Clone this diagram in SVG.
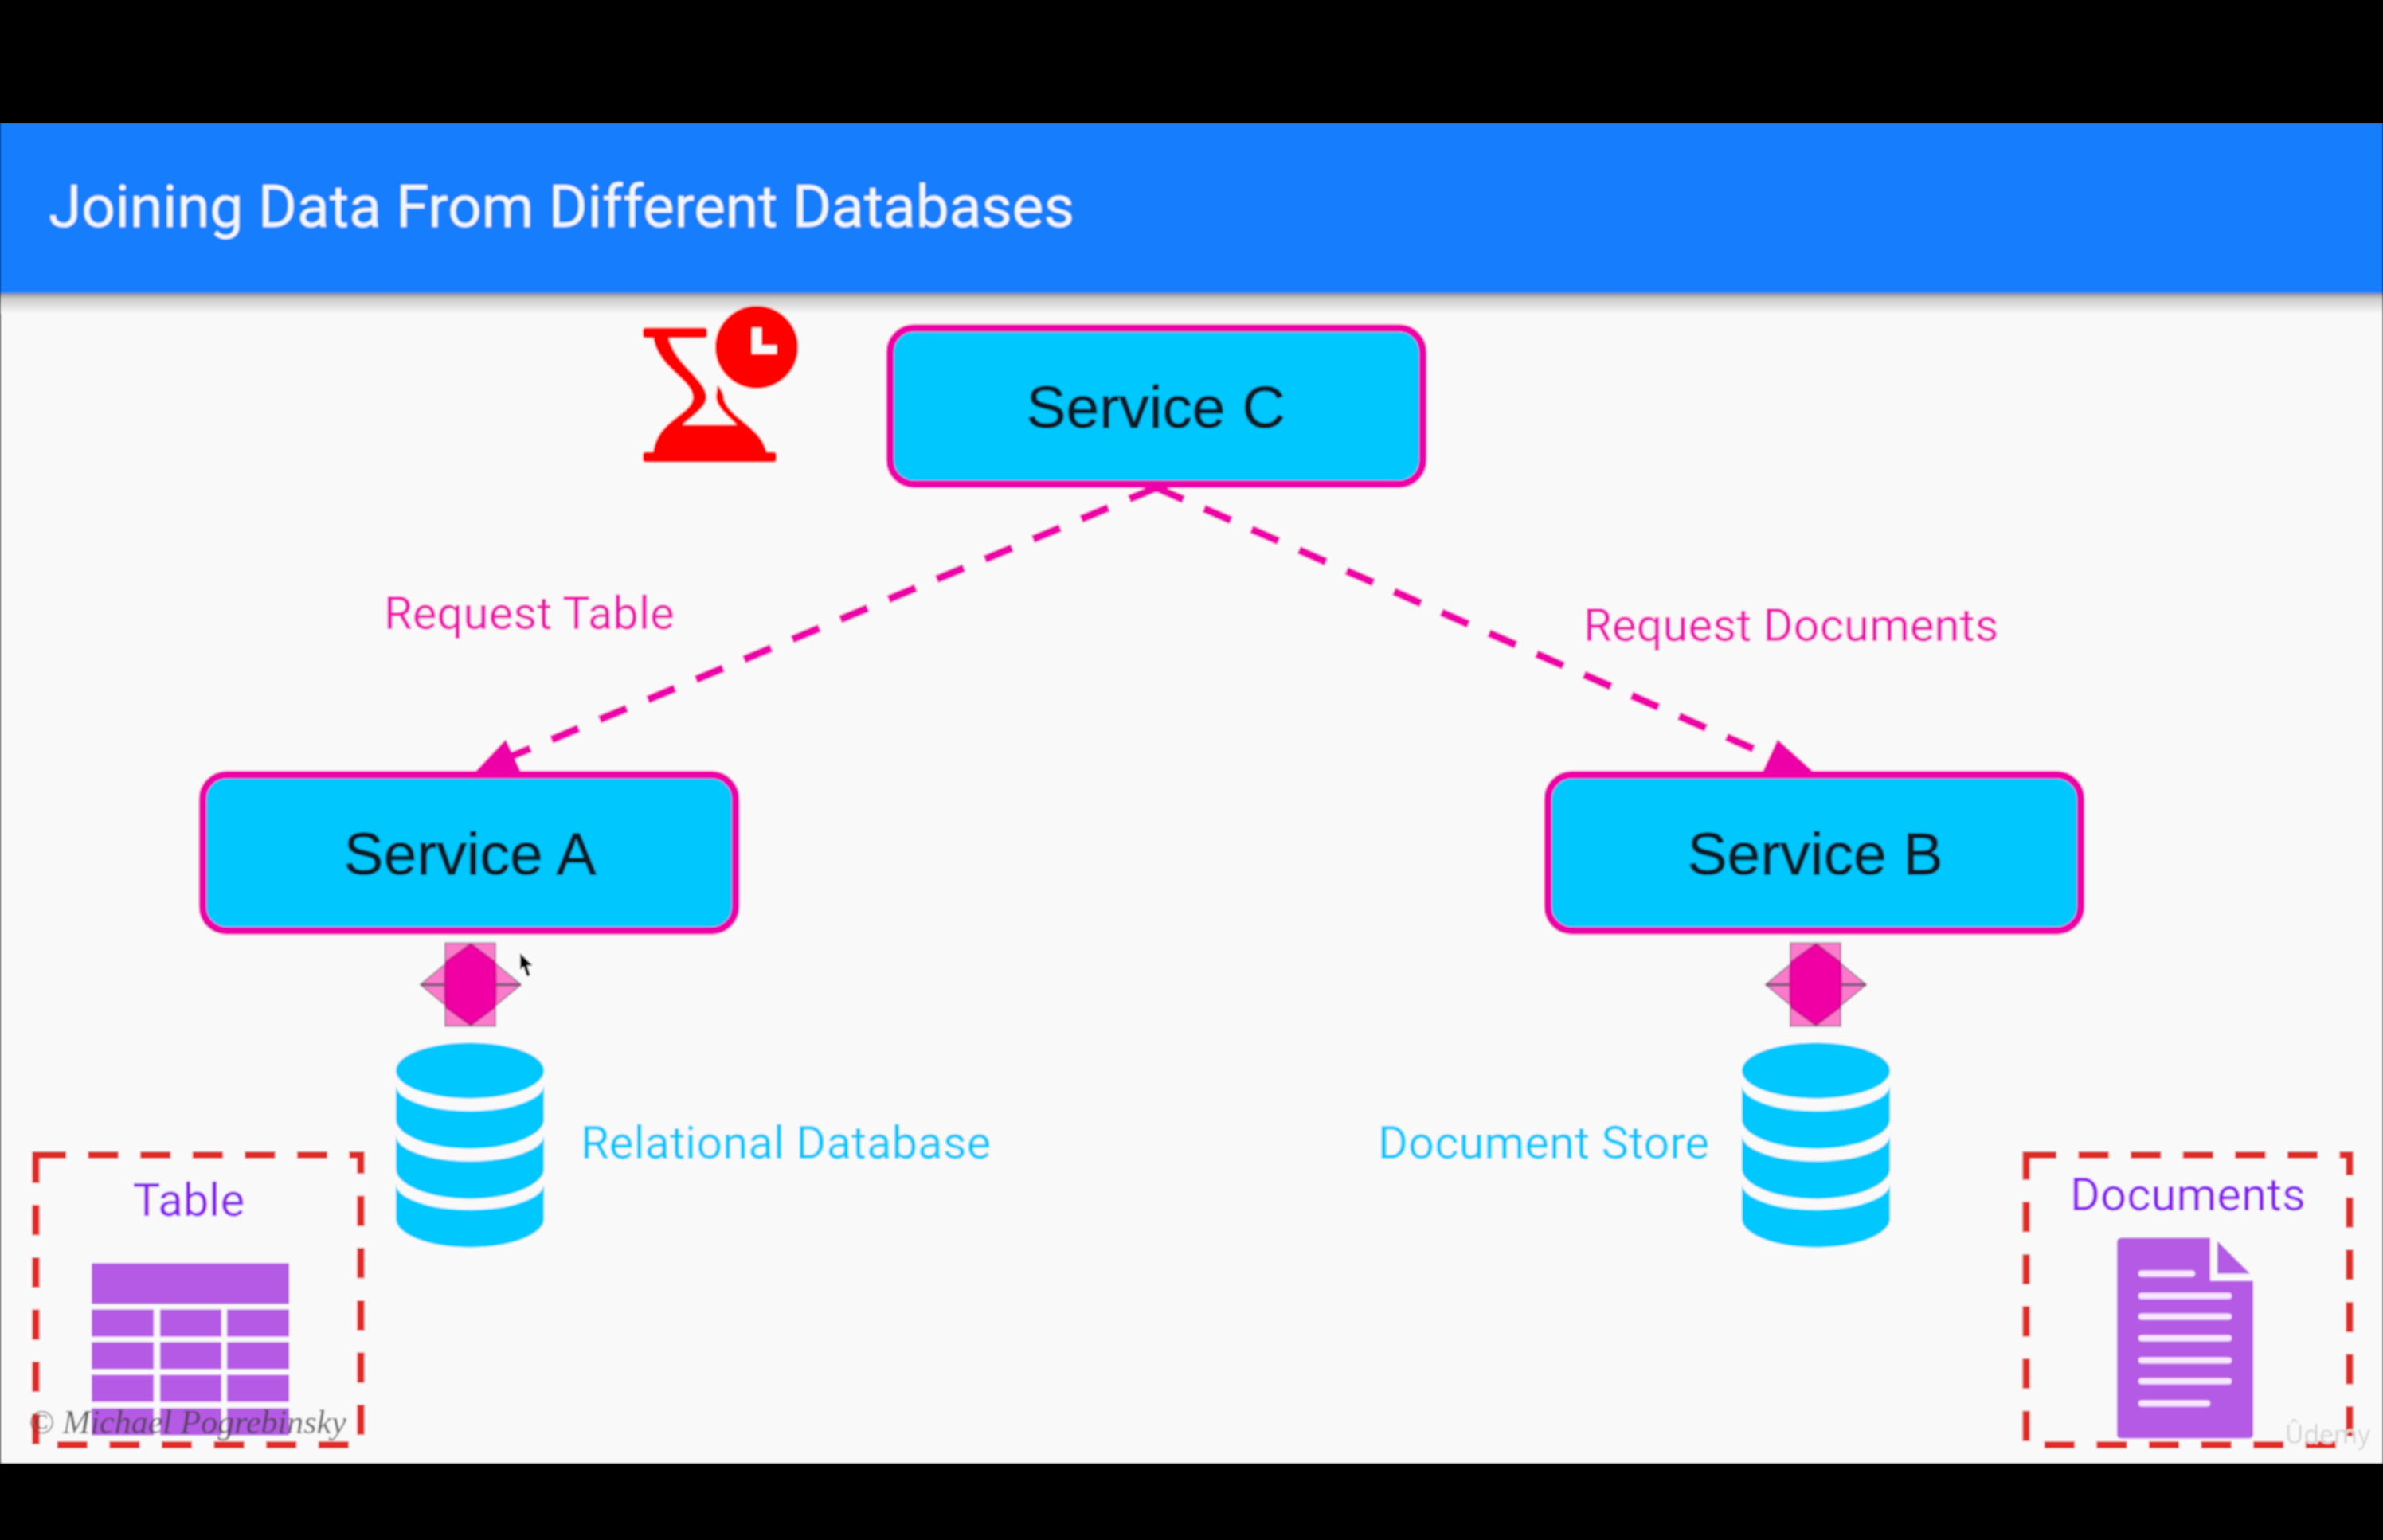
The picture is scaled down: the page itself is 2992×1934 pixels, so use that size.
<svg xmlns="http://www.w3.org/2000/svg" xmlns:xlink="http://www.w3.org/1999/xlink" width="2992" height="1934" viewBox="0 0 2992 1934">
<style>
.box{fill:#00c8ff;stroke:#ee00a8;stroke-width:9.500}
.svc{font-family:"Liberation Sans",Arial,sans-serif;font-size:75px;fill:#0b1a26;stroke:#0b1a26;stroke-width:1;text-anchor:middle}
.rb{font-family:Roboto,"Noto Sans",sans-serif}
.req{font-size:58px;fill:#ee14ad}
.db{font-size:58px;fill:#00c8ff}
.pur{font-size:58px;fill:#8a1ff0}
.conn{fill:none;stroke:#ee00a8;stroke-width:10}
.head{fill:#ee00a8}
.dash{fill:none;stroke:#e02b26;stroke-width:9;stroke-dasharray:38 27.6}
.vio{fill:#b55ae4}
.dbf{fill:#00c8ff}
.hx{fill:#fc7acb;stroke:#a87a9c;stroke-width:2}
.hxl{stroke:#8a5a80;stroke-width:4}
.hxc{fill:#f000a4;stroke:#c0108a;stroke-width:2;stroke-linejoin:round}
.rd{fill:#ff0000}
.ln{fill:#f8e6ff}
</style>
<defs>
<filter id="soft" x="0" y="0" width="100%" height="100%" filterUnits="objectBoundingBox"><feGaussianBlur stdDeviation="1.3"/></filter>
<linearGradient id="shade" x1="0" y1="0" x2="0" y2="1"><stop offset="0" stop-color="#8d8d8d"/><stop offset=".25" stop-color="#c9c9c9"/><stop offset="1" stop-color="#f9f9f9"/></linearGradient>
<g id="connector-icon">
<rect class="hx" x="559" y="1183" width="63" height="104"/>
<polygon class="hx" points="591,1183 654,1235 591,1287 528,1235"/>
<line class="hxl" x1="528" y1="1235" x2="654" y2="1235"/>
<path class="hxc" d="M591,1184 L622,1207 Q623,1235 622,1263 L591,1286 L559,1263 Q558,1235 559,1207 Z"/>
</g>
<g id="db-icon">
<ellipse class="dbf" cx="590" cy="1343" rx="93" ry="35"/>
<path class="dbf" d="M497,1361 A93,33 0 0 0 683,1361 V1404 A93,37 0 0 1 497,1404 Z"/>
<path class="dbf" d="M497,1424 A93,33 0 0 0 683,1424 V1466 A93,38 0 0 1 497,1466 Z"/>
<path class="dbf" d="M497,1485 A93,33 0 0 0 683,1485 V1529 A93,36 0 0 1 497,1529 Z"/>
</g>
</defs>
<rect id="backdrop" width="2992" height="1934" fill="#000"/>
<g id="slide" filter="url(#soft)">
<rect x="0" y="368" width="2992" height="1470" fill="#f9f9f9"/>
<rect x="0" y="368" width="2" height="1470" fill="#cfcfcf"/>
<rect x="0" y="368" width="2992" height="26" fill="url(#shade)"/>
<rect x="0" y="154" width="2992" height="214" fill="#167dfc"/>
<text id="title" class="rb" x="61" y="285" font-size="75" fill="#f2f6ff" textLength="1288" lengthAdjust="spacingAndGlyphs">Joining Data From Different Databases</text>

<g id="content" transform="translate(0,1.500)">
<g id="connectors">
<path class="conn" style="stroke-dasharray:37 28.5;stroke-dashoffset:12" d="M643,948 L1452,611"/>
<polygon class="head" points="635,927 662,985 585,980"/>
<path class="conn" style="stroke-dasharray:37 28.1" d="M1452,611 L2202,939"/>
<polygon class="head" points="2232,927 2205,985 2296,985"/>
</g>

<g id="clock-icon">
<rect class="rd" x="807" y="410" width="81" height="13" rx="4"/>
<rect class="rd" x="807" y="566" width="168" height="13" rx="4"/>
<path class="rd" d="M822,420 L839,420 C845,455 887,475 887,497 C887,510 870,520 857,532 L925,532 C913,520 900,510 899,497 L901,482 C906,488 909,494 909,500 C917,525 957,535 963,568 L820,568 C824,525 870,520 870,497 C870,475 824,460 820,420 Z"/>
<ellipse class="rd" cx="950" cy="434.500" rx="52" ry="52"/>
<path fill="#f9f9f9" d="M944,410 H956 V432 H975 V443 H944 Z"/>
</g>

<g id="service-c"><rect class="box" x="1117.500" y="410.500" width="669" height="196" rx="30"/><text class="svc" x="1451" y="535">Service C</text></g>
<g id="service-a"><rect class="box" x="254.500" y="971.500" width="669" height="196" rx="30"/><text class="svc" x="590" y="1096">Service A</text></g>
<g id="service-b"><rect class="box" x="1943.500" y="971.500" width="669" height="196" rx="30"/><text class="svc" x="2279" y="1096">Service B</text></g>

<text id="label-request-table" class="rb req" x="482" y="788">Request Table</text>
<text id="label-request-documents" class="rb req" x="1988" y="803">Request Documents</text>

<g id="connector-a"><use href="#connector-icon"/></g>
<g id="connector-b"><use href="#connector-icon" x="1689"/></g>
<g id="relational-database"><use href="#db-icon"/><text class="rb db" x="729" y="1453">Relational Database</text></g>
<g id="document-store"><use href="#db-icon" x="1690"/><text class="rb db" x="1730" y="1453">Document Store</text></g>

<g id="table-group">
<path class="dash" d="M45,1449 H453 V1813 H45 Z"/>
<text class="rb pur" x="237" y="1525" text-anchor="middle">Table</text>
<rect class="vio" x="115" y="1585" width="248" height="51"/>
<rect class="vio" x="115" y="1643" width="78" height="34"/><rect class="vio" x="201" y="1643" width="77" height="34"/><rect class="vio" x="285" y="1643" width="78" height="34"/>
<rect class="vio" x="115" y="1684" width="78" height="34"/><rect class="vio" x="201" y="1684" width="77" height="34"/><rect class="vio" x="285" y="1684" width="78" height="34"/>
<rect class="vio" x="115" y="1725" width="78" height="34"/><rect class="vio" x="201" y="1725" width="77" height="34"/><rect class="vio" x="285" y="1725" width="78" height="34"/>
<rect class="vio" x="115" y="1767" width="78" height="34"/><rect class="vio" x="201" y="1767" width="77" height="34"/><rect class="vio" x="285" y="1767" width="78" height="34"/>
</g>

<g id="documents-group">
<path class="dash" d="M2544,1449 H2950 V1813 H2544 Z"/>
<text class="rb pur" x="2599" y="1518">Documents</text>
<path class="vio" d="M2664,1553 H2775 V1607 H2829 V1800 Q2829,1805 2823,1805 H2664 Q2658,1805 2658,1800 V1559 Q2658,1553 2664,1553 Z"/>
<polygon class="vio" points="2784,1557 2825,1598 2784,1598"/>
<rect class="ln" x="2685" y="1594" width="71" height="8" rx="4"/>
<rect class="ln" x="2685" y="1622" width="117" height="8" rx="4"/>
<rect class="ln" x="2685" y="1648" width="117" height="8" rx="4"/>
<rect class="ln" x="2685" y="1675" width="117" height="8" rx="4"/>
<rect class="ln" x="2685" y="1703" width="117" height="8" rx="4"/>
<rect class="ln" x="2685" y="1729" width="117" height="8" rx="4"/>
<rect class="ln" x="2685" y="1757" width="90" height="8" rx="4"/>
</g>

<text id="copyright" x="36" y="1798" font-family="'Liberation Serif','Times New Roman',serif" font-style="italic" font-size="42" fill="#3c3c3c" fill-opacity=".78">© Michael Pogrebinsky</text>
<text id="watermark" x="2869" y="1811" font-family="'Noto Sans',sans-serif" font-size="32" fill="#c4c4c4" stroke="#f4f4f4" stroke-width="1">Ûdemy</text>
<path id="cursor" d="M652,1193 V1219 L657,1214 L661,1226 L667,1224 L663,1212 L671,1212 Z" fill="#000" stroke="#fff" stroke-width="2"/>
</g>
</g>
</svg>
